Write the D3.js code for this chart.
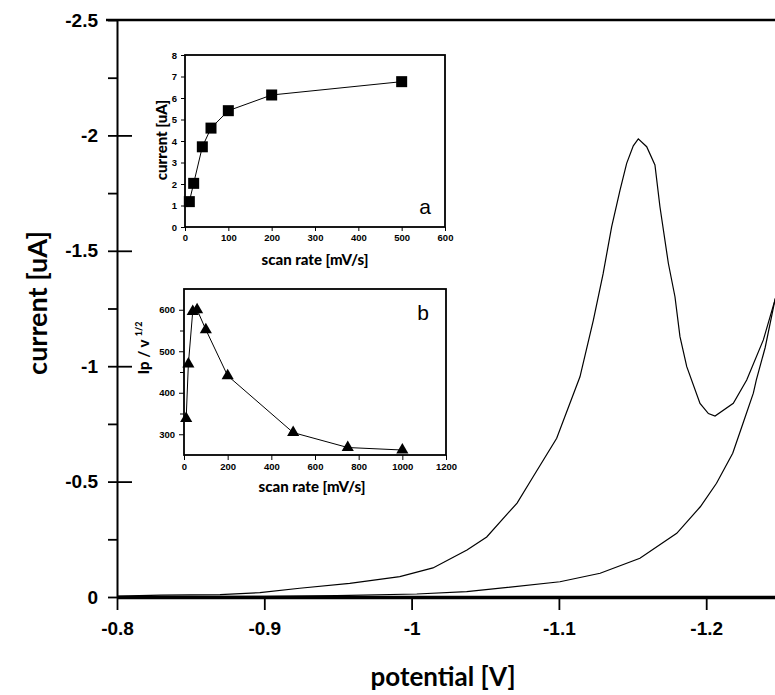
<!DOCTYPE html>
<html>
<head>
<meta charset="utf-8">
<script src="https://cdn.jsdelivr.net/npm/d3@7"></script>
<style>
    body { margin: 0; background: #fff; }
    svg { display: block; font-family: Lato, "DejaVu Sans", sans-serif; }
</style>
</head>
<body>
<svg width="775" height="695"></svg>
<script>
// cyclic voltammogram, forward scan (potential V, current uA)
const cvForwardV = [-0.800, -0.830, -0.870, -0.897, -0.924, -0.958, -0.992, -1.0145, -1.0376, -1.051,
    -1.0716, -1.0824, -1.0985, -1.1143, -1.1234, -1.130, -1.1358, -1.1415, -1.146, -1.1505,
    -1.1539, -1.1596, -1.1652, -1.1686, -1.1743, -1.1788, -1.1822, -1.1868, -1.1958, -1.2015,
    -1.206, -1.2184, -1.2275, -1.2388, -1.2467, -1.252];
const cvForwardI = [-0.004, -0.008, -0.010, -0.019, -0.038, -0.059, -0.088, -0.126, -0.204, -0.26,
    -0.407, -0.52, -0.688, -0.954, -1.20, -1.40, -1.604, -1.763, -1.879, -1.955,
    -1.985, -1.951, -1.872, -1.691, -1.446, -1.301, -1.128, -0.998, -0.839, -0.795,
    -0.784, -0.839, -0.940, -1.114, -1.287, -1.40];

// reverse scan
const cvReverseV = [-1.252, -1.2467, -1.240, -1.234, -1.232, -1.225, -1.218, -1.207, -1.196, -1.180,
    -1.155, -1.128, -1.1007, -1.0374, -1.0035, -0.949, -0.90, -0.80];
const cvReverseI = [-1.40, -1.287, -1.08, -0.94, -0.883, -0.753, -0.623, -0.493, -0.391, -0.276,
    -0.168, -0.103, -0.066, -0.023, -0.013, -0.006, -0.003, -0.002];

const xTicks = [-0.8, -0.9, -1, -1.1, -1.2];
const yTicks = [0, -0.5, -1, -1.5, -2, -2.5];
const yMinorTicks = [-0.25, -0.75, -1.25, -1.75, -2.25];

// inset a: peak current vs scan rate
const insetARate = [10, 20, 40, 60, 100, 200, 500];
const insetACurrent = [1.18, 2.03, 3.73, 4.6, 5.41, 6.14, 6.76];
const insetAXTicks = [0, 100, 200, 300, 400, 500, 600];
const insetAYTicks = [0, 1, 2, 3, 4, 5, 6, 7, 8];

// inset b: ip / v^1/2 vs scan rate
const insetBRate = [10, 20, 40, 60, 100, 200, 500, 750, 1000];
const insetBRatio = [338, 469, 596, 600, 552, 441, 304, 268, 262];
const insetBXTicks = [0, 200, 400, 600, 800, 1000, 1200];
const insetBYTicks = [300, 400, 500, 600];
const insetBYMinor = [350, 450, 550];

const svg = d3.select("svg");
const intFmt = d3.format("d");

// ---- main plot ----
const x = d3.scaleLinear().domain([-0.8, -1.25]).range([117, 117 + 0.45 * 1473]);
const y = d3.scaleLinear().domain([0, -2.5]).range([597, 20]);

svg.append("clipPath").attr("id", "plotclip")
    .append("rect").attr("x", 117).attr("y", 18).attr("width", 660).attr("height", 580);

const fmt = d => String(d);

// top frame line
svg.append("line")
    .attr("x1", 106).attr("x2", 775).attr("y1", y(-2.5)).attr("y2", y(-2.5))
    .attr("stroke", "#000").attr("stroke-width", 2.5);

// y axis
const gy = svg.append("g").attr("transform", "translate(117,0)")
    .call(d3.axisLeft(y).tickValues(yTicks).tickFormat(fmt).tickSize(9).tickSizeOuter(0).tickPadding(10));
gy.select(".domain").attr("stroke-width", 2);
gy.selectAll(".tick line").attr("stroke-width", 1.8);
gy.selectAll(".tick").filter(d => d !== 0 && d !== -2.5).append("line")
    .attr("x1", 0).attr("x2", 15).attr("stroke", "#000").attr("stroke-width", 1.8);
gy.selectAll(".tick text").attr("font-size", 19).attr("fill", "#000").attr("font-weight", 600);

svg.append("g").attr("transform", "translate(117,0)")
    .call(d3.axisLeft(y).tickValues(yMinorTicks).tickFormat("").tickSize(9).tickSizeOuter(0))
    .call(g => g.select(".domain").remove())
    .selectAll(".tick line").attr("stroke-width", 1.8);

// x axis
const gx = svg.append("g").attr("transform", "translate(0,597)")
    .call(d3.axisBottom(x).tickValues(xTicks).tickFormat(fmt).tickSize(13).tickSizeOuter(0).tickPadding(12));
gx.select(".domain").attr("stroke-width", 3.5);
gx.selectAll(".tick line").attr("stroke-width", 1.8);
gx.selectAll(".tick text").attr("font-size", 19).attr("fill", "#000").attr("font-weight", 600);

// axis titles
svg.append("text")
    .attr("transform", "translate(47,303) rotate(-90)")
    .attr("text-anchor", "middle")
    .attr("font-size", 27).attr("font-weight", 700)
    .text("current [uA]");

svg.append("text")
    .attr("x", 443).attr("y", 686)
    .attr("text-anchor", "middle")
    .attr("font-size", 26).attr("font-weight", 700)
    .text("potential [V]");

// voltammogram
const line = d3.line().x(d => x(d[0])).y(d => y(d[1]));
const fwd = cvForwardV.map((v, i) => [v, cvForwardI[i]]);
const rev = cvReverseV.map((v, i) => [v, cvReverseI[i]]);
const gCv = svg.append("g").attr("clip-path", "url(#plotclip)");
[fwd, rev].forEach(pts => {
    gCv.append("path").datum(pts)
        .attr("d", line)
        .attr("fill", "none").attr("stroke", "#000").attr("stroke-width", 1.2);
});

// ---- inset a ----
const ax = d3.scaleLinear().domain([0, 600]).range([185, 445]);
const ay = d3.scaleLinear().domain([0, 8]).range([227, 55]);

const gA = svg.append("g");
gA.append("rect")
    .attr("x", ax(0)).attr("y", ay(8)).attr("width", ax(600) - ax(0)).attr("height", ay(0) - ay(8))
    .attr("fill", "#fff").attr("stroke", "#000").attr("stroke-width", 1.8);

gA.append("g").attr("transform", `translate(0,${ay(0)})`)
    .call(d3.axisBottom(ax).tickValues(insetAXTicks).tickFormat(intFmt).tickSize(4).tickSizeOuter(0).tickPadding(3))
    .call(g => g.select(".domain").remove())
    .selectAll("text").attr("font-size", 9.5).attr("font-weight", 900).attr("fill", "#000");

gA.append("g").attr("transform", `translate(${ax(0)},0)`)
    .call(d3.axisLeft(ay).tickValues(insetAYTicks).tickFormat(intFmt).tickSize(4).tickSizeOuter(0).tickPadding(4))
    .call(g => g.select(".domain").remove())
    .selectAll("text").attr("font-size", 9.5).attr("font-weight", 900).attr("fill", "#000");

gA.append("text")
    .attr("x", 315).attr("y", 265).attr("text-anchor", "middle")
    .attr("font-size", 15).attr("font-weight", 900)
    .text("scan rate [mV/s]");
gA.append("text")
    .attr("transform", "translate(167,140) rotate(-90)").attr("text-anchor", "middle")
    .attr("font-size", 15).attr("font-weight", 900)
    .text("current [uA]");
gA.append("text")
    .attr("x", 425).attr("y", 214).attr("text-anchor", "middle")
    .attr("font-family", "Liberation Sans, Arial, sans-serif")
    .attr("font-size", 21)
    .text("a");

const ptsA = insetARate.map((r, i) => [r, insetACurrent[i]]);
gA.append("path").datum(ptsA)
    .attr("d", d3.line().x(d => ax(d[0])).y(d => ay(d[1])))
    .attr("fill", "none").attr("stroke", "#000").attr("stroke-width", 1);
gA.selectAll("rect.pt").data(ptsA).enter().append("rect")
    .attr("class", "pt")
    .attr("x", d => ax(d[0]) - 5.5).attr("y", d => ay(d[1]) - 5.5)
    .attr("width", 11).attr("height", 11).attr("fill", "#000");

// ---- inset b ----
const bx = d3.scaleLinear().domain([0, 1200]).range([184, 446]);
const by = d3.scaleLinear().domain([250, 650]).range([455, 289]);

const gB = svg.append("g");
gB.append("rect")
    .attr("x", bx(0)).attr("y", by(650)).attr("width", bx(1200) - bx(0)).attr("height", by(250) - by(650))
    .attr("fill", "#fff").attr("stroke", "#000").attr("stroke-width", 1.8);

gB.append("g").attr("transform", `translate(0,${by(250)})`)
    .call(d3.axisBottom(bx).tickValues(insetBXTicks).tickFormat(intFmt).tickSize(5).tickSizeOuter(0).tickPadding(3))
    .call(g => g.select(".domain").remove())
    .selectAll("text").attr("font-size", 9.5).attr("font-weight", 900).attr("fill", "#000");

gB.append("g").attr("transform", `translate(${bx(0)},0)`)
    .call(d3.axisLeft(by).tickValues(insetBYTicks).tickFormat(intFmt).tickSize(5).tickSizeOuter(0).tickPadding(4))
    .call(g => g.select(".domain").remove())
    .selectAll("text").attr("font-size", 9.5).attr("font-weight", 900).attr("fill", "#000");

gB.append("g").attr("transform", `translate(${bx(0)},0)`)
    .call(d3.axisLeft(by).tickValues(insetBYMinor).tickFormat("").tickSize(4).tickSizeOuter(0))
    .call(g => g.select(".domain").remove());

gB.append("text")
    .attr("x", 312).attr("y", 492).attr("text-anchor", "middle")
    .attr("font-size", 15).attr("font-weight", 900)
    .text("scan rate [mV/s]");
const yb = gB.append("text")
    .attr("transform", "translate(149,348) rotate(-90)").attr("text-anchor", "middle")
    .attr("font-size", 15).attr("font-weight", 900);
yb.append("tspan").text("Ip / v ");
yb.append("tspan").attr("font-size", 9).attr("dy", -7).text("1/2");
gB.append("text")
    .attr("x", 423).attr("y", 320).attr("text-anchor", "middle")
    .attr("font-family", "Liberation Sans, Arial, sans-serif")
    .attr("font-size", 21)
    .text("b");

const ptsB = insetBRate.map((r, i) => [r, insetBRatio[i]]);
gB.append("path").datum(ptsB)
    .attr("d", d3.line().x(d => bx(d[0])).y(d => by(d[1])))
    .attr("fill", "none").attr("stroke", "#000").attr("stroke-width", 1);
gB.selectAll("path.pt").data(ptsB).enter().append("path")
    .attr("class", "pt")
    .attr("transform", d => `translate(${bx(d[0])},${by(d[1])})`)
    .attr("d", d3.symbol(d3.symbolTriangle).size(64))
    .attr("fill", "#000");
</script>
</body>
</html>
